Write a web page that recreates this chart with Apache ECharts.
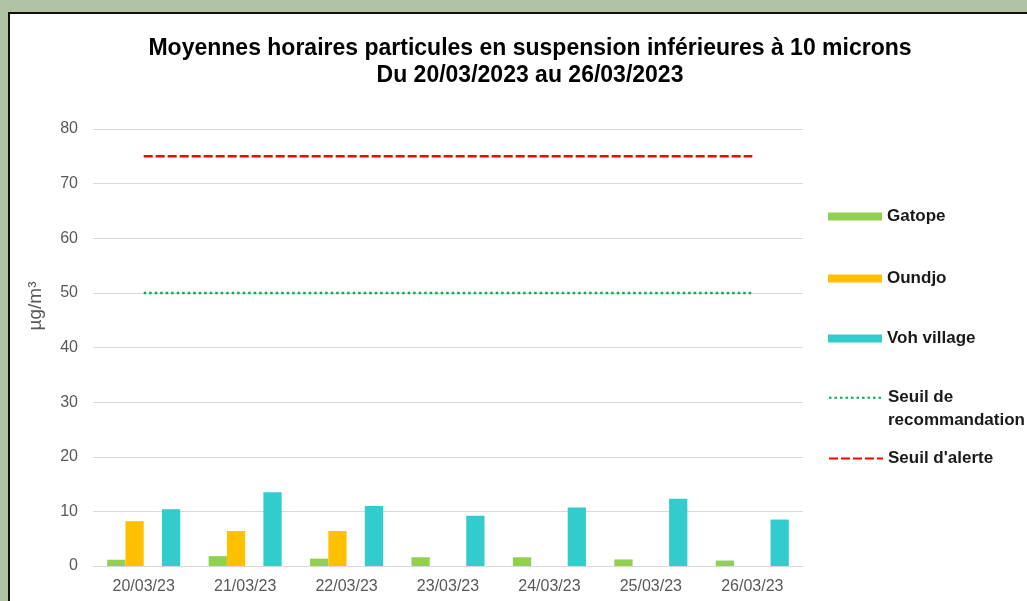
<!DOCTYPE html>
<html><head><meta charset="utf-8">
<script src="https://cdn.jsdelivr.net/npm/echarts@6/dist/echarts.min.js"></script>
<style>html,body{margin:0;padding:0;background:#b1c2a2;}#c{width:1027px;height:601px;}</style>
</head><body><div id="c"></div>
<script>
const categories = ['20/03/23','21/03/23','22/03/23','23/03/23','24/03/23','25/03/23','26/03/23'];
const gatope = [1.15, 1.8, 1.35, 1.6, 1.6, 1.2, 1.0];
const oundjo = [8.2, 6.4, 6.4, null, null, null, null];
const voh = [10.4, 13.5, 11.0, 9.2, 10.7, 12.3, 8.5];
const seuilReco = [50, 50, 50, 50, 50, 50, 50];
const seuilAlerte = [75, 75, 75, 75, 75, 75, 75];
const yTicks = [0, 10, 20, 30, 40, 50, 60, 70, 80];

const chart = echarts.init(document.getElementById('c'), null, {renderer: 'canvas'});
const FONT = 'Liberation Sans, Arial, sans-serif';
const legendText = {fontFamily: FONT, fontWeight: 'bold', fontSize: 17, color: '#1a1a1a'};
function lg(name, top, extra) {
  return Object.assign({
    data: [name], orient: 'vertical', left: 828, top: top, itemWidth: 54, itemHeight: 8, itemGap: 0,
    padding: 0, selectedMode: false, textStyle: Object.assign({}, legendText)
  }, extra || {});
}
chart.setOption({
  backgroundColor: '#b1c2a2',
  animation: false,
  graphic: [{type: 'rect', z: -10, shape: {x: 9, y: 13, width: 1030, height: 600},
    style: {fill: '#ffffff', stroke: '#111', lineWidth: 2}}],
  title: {
    text: 'Moyennes horaires particules en suspension inférieures à 10 microns\nDu 20/03/2023 au 26/03/2023',
    left: 525, textAlign: 'center', top: 30,
    textStyle: {fontFamily: FONT, fontWeight: 'bold', fontSize: 23, color: '#000', lineHeight: 27}
  },
  legend: [
    lg('Gatope', 208, {icon: 'rect'}),
    lg('Oundjo', 270, {icon: 'rect'}),
    lg('Voh village', 330, {icon: 'rect'}),
    lg('Seuil de recommandation', 364, {itemHeight: 12, itemStyle: {color: 'transparent', borderWidth: 0},
      formatter: function () { return ' \nSeuil de\nrecommandation'; },
      textStyle: Object.assign({}, legendText, {lineHeight: 22.5})}),
    lg("Seuil d'alerte", 450, {itemHeight: 12, itemStyle: {color: 'transparent', borderWidth: 0}})
  ],
  grid: {left: 93, right: 224, top: 129, bottom: 35},
  xAxis: {
    type: 'category', data: categories,
    axisLine: {lineStyle: {color: '#d9d9d9', width: 1}},
    axisTick: {show: false},
    axisLabel: {color: '#595959', fontSize: 16, fontFamily: FONT, margin: 13}
  },
  yAxis: {
    type: 'value', min: yTicks[0], max: yTicks[yTicks.length - 1], interval: 10,
    name: 'µg/m³', nameLocation: 'middle', nameGap: 48, nameRotate: 90,
    nameTextStyle: {color: '#595959', fontSize: 19, fontFamily: FONT, padding: [0, 0, 0, 83]},
    axisLine: {show: false}, axisTick: {show: false},
    splitLine: {lineStyle: {color: '#d9d9d9', width: 1}},
    axisLabel: {color: '#595959', fontSize: 16, fontFamily: FONT, margin: 15}
  },
  series: [
    {name: 'Gatope', type: 'bar', data: gatope, barGap: '0%', barCategoryGap: '28%', itemStyle: {color: '#92d050'}},
    {name: 'Oundjo', type: 'bar', data: oundjo, barGap: '0%', itemStyle: {color: '#ffc000'}},
    {name: 'vide', type: 'bar', data: [null, null, null, null, null, null, null], barGap: '0%'},
    {name: 'Voh village', type: 'bar', data: voh, barGap: '0%', itemStyle: {color: '#33cccc'}},
    {name: 'Seuil de recommandation', type: 'line', data: seuilReco, symbol: 'none',
      itemStyle: {color: '#00b050'}, lineStyle: {color: '#00b050', width: 2.5, type: [2.5, 3]}},
    {name: "Seuil d'alerte", type: 'line', data: seuilAlerte, symbol: 'none',
      itemStyle: {color: '#ff0000'}, lineStyle: {color: '#ff0000', width: 2.5, type: [9, 3]}}
  ]
});
</script></body></html>
